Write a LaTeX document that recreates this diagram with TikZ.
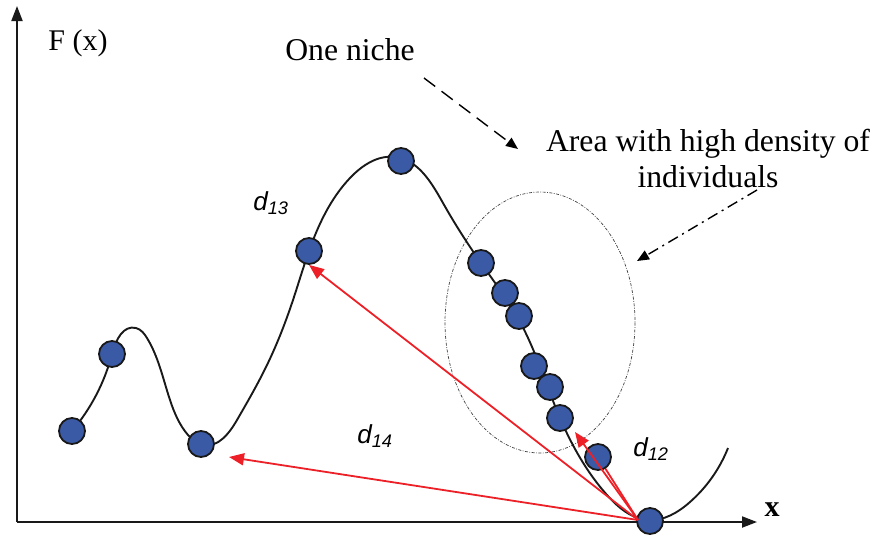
\documentclass[tikz,border=0pt]{standalone}
\usepackage{fontspec}
\setmainfont{Liberation Serif}
\newfontfamily\arialf{Liberation Sans}
\usetikzlibrary{arrows.meta,hobby}
\definecolor{dotblue}{RGB}{58,90,166}
\definecolor{arrred}{RGB}{236,32,38}
\begin{document}
\begin{tikzpicture}[x=1pt,y=-1pt,
  ind/.style={circle,draw=black!90,line width=1.8pt,fill=dotblue,minimum size=26pt,inner sep=0pt},
  axisline/.style={line width=2pt,draw=black!90,-{Triangle[length=15pt,width=11pt]}},
  redarr/.style={draw=arrred,line width=1.8pt,-{Triangle[length=15pt,width=12pt]}},
  redline/.style={draw=arrred,line width=1.8pt},
  dlab/.style={font=\arialf\itshape\fontsize{26}{30}\selectfont,inner sep=0pt},
  lbl/.style={font=\fontsize{31.7}{36}\selectfont,inner sep=0pt,align=center},
  nicheptr/.style={line width=1.4pt,dash pattern=on 14pt off 8pt,-{Triangle[length=12pt,width=10pt]}},
  areaptr/.style={line width=1.4pt,dash pattern=on 11pt off 5pt on 2pt off 5pt,-{Triangle[length=12pt,width=10pt]}},
  areaell/.style={draw=black!75,line width=0.7pt,dash pattern=on 3pt off 1.5pt on 0.8pt off 1.5pt}]
\useasboundingbox (0,0) rectangle (874,539);

% axes
\coordinate (O) at (17,522);
\coordinate (ytip) at (17,6);
\coordinate (xtip) at (757,522);
\draw[axisline] (O) -- (ytip);
\draw[axisline] (O) -- (xtip);
\node[lbl,font=\fontsize{30}{36}\selectfont] (Fx) at (78,43) {F (x)};
\node[lbl,font=\bfseries\fontsize{30}{36}\selectfont] (xl) at (772,510) {x};

% density ellipse
\draw[areaell] (540,322.5) ellipse [x radius=95, y radius=130.5];

% fitness curve
\draw[line width=1.9pt,black!90,use Hobby shortcut]
 (72,431) .. (112,354) .. (136,328) .. (147,338) .. (170,400) .. (188,435) .. (203,445)
 .. (237,420) .. (267,365) .. (293,300) .. (309,251) .. (350,178) .. (395,157)
 .. (443,203) .. (481,263) .. (519,320) .. (560,418) .. (607,495)
 .. (648,520) .. (690,502) .. (728,448);

% individuals
\node[ind] (c1) at (72,431) {};
\node[ind] (c2) at (112,354) {};
\node[ind] (c3) at (201,444) {};
\node[ind] (c4) at (309,251) {};
\node[ind] (c5) at (401,161) {};
\node[ind] (c6) at (481,263) {};
\node[ind] (c7) at (505,293) {};
\node[ind] (c8) at (519,316) {};
\node[ind] (c9) at (534,366) {};
\node[ind] (c10) at (550,387) {};
\node[ind] (c11) at (560,418) {};
\node[ind] (cmin) at (650,521) {};

% distance arrows
\coordinate (src) at (638,520);
\coordinate (t12) at (575,432);
\coordinate (t14) at (229,457);
\draw[redline] (src) -- (598,457);
\node[ind] (c12) at (598,457) {};
\draw[redarr] (src) -- (t12);
\draw[redarr] (src) -- (c4.south);
\draw[redarr] (src) -- (t14);

% distance labels
\node[dlab] (d13) at (271,203) {d\textsubscript{13}};
\node[dlab] (d14) at (375,436) {d\textsubscript{14}};
\node[dlab] (d12) at (651,449) {d\textsubscript{12}};

% niche annotations
\node[lbl] (niche) at (350,50) {One niche};
\node[lbl] (area) at (708,158) {Area with high density of\\individuals};
\coordinate (n1) at (424,78);
\coordinate (n2) at (518,149);
\draw[nicheptr] (n1) -- (n2);
\coordinate (a1) at (757,190);
\coordinate (a2) at (637,261);
\draw[areaptr] (a1) -- (a2);
\end{tikzpicture}
\end{document}
